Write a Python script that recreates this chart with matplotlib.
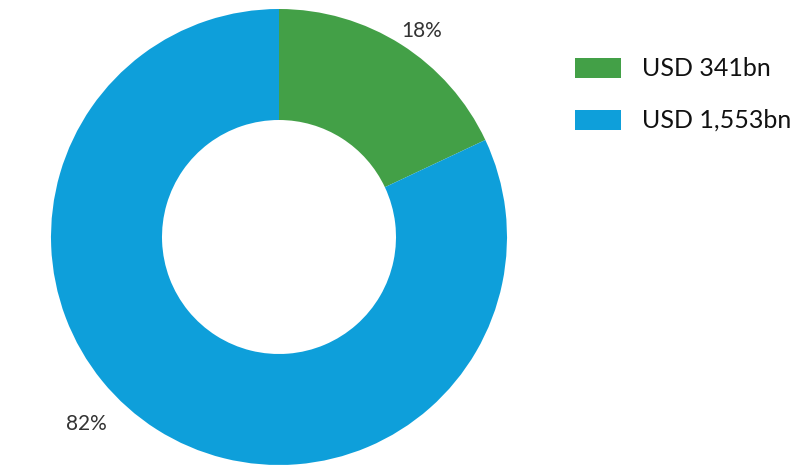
import matplotlib.pyplot as plt

labels = ["USD 341bn", "USD 1,553bn"]
values = [341, 1553]
pct_labels = ["18%", "82%"]
colors = ["#43A047", "#0E9FDA"]

plt.rcParams["font.family"] = ["Lato", "DejaVu Sans"]

fig = plt.figure(figsize=(8, 4.72), dpi=100)
ax = fig.add_axes([0, 0, 1, 1])

wedges, _ = ax.pie(values, colors=colors, startangle=90, counterclock=False,
                   center=(279, 235), radius=228,
                   wedgeprops=dict(width=111, edgecolor="none"), frame=True)
ax.set_xlim(0, 800)
ax.set_ylim(0, 472)
ax.axis("off")

# percent labels outside the ring
ax.text(422, 441, pct_labels[0], fontsize=15, color="#333333", ha="center", va="center")
ax.text(86, 48, pct_labels[1], fontsize=15, color="#333333", ha="center", va="center")

# legend drawn by hand
for i, lab in enumerate(labels):
    y = 472 - 68 - i * 52
    ax.add_patch(plt.Rectangle((575, y - 10), 46, 20, color=colors[i], lw=0))
    ax.text(642, y, lab, fontsize=18, color="#111111", ha="left", va="center")

fig.savefig("out.png", dpi=100)
